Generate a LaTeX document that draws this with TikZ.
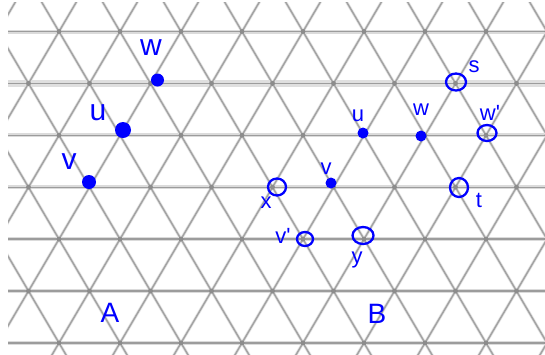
\documentclass[tikz,border=0pt]{standalone}
\usepackage{fontspec}
\setmainfont{Liberation Sans}
\usetikzlibrary{shapes.geometric}
\begin{document}
\begin{tikzpicture}[x=1pt,y=-1pt,
  hband/.style={line width=4pt, draw=gray!28},
  hcore/.style={line width=1.4pt, draw=gray!78},
  dband/.style={line width=3pt, draw=gray!20},
  dcore/.style={line width=1.5pt, draw=gray!72},
  knot/.style={fill=gray!90},
  bdot/.style={circle, fill=blue, inner sep=0pt, minimum size=#1},
  ring/.style={ellipse, draw=blue, line width=2.3pt, inner sep=0pt, minimum width=#1},
  lbl/.style={text=blue, inner sep=0pt},
  biglbl/.style={lbl, font=\fontsize{30}{30}\selectfont},
  smalllbl/.style={lbl, font=\fontsize{22}{22}\selectfont},
  caplbl/.style={lbl, font=\fontsize{28}{28}\selectfont}]
\useasboundingbox (0,0) rectangle (545,354);
\fill[white] (0,0) rectangle (545,354);
% triangular lattice
\begin{scope}
\clip (8,2) rectangle (545,354);
\foreach \k in {0,...,6} {
  \draw[hband] (0,{31.5+51.9*\k}) -- (545,{31.5+51.9*\k});
}
\draw[line width=7pt, draw=gray!25] (0,83.4) -- (545,83.4);
\foreach \j in {-6,...,9} {
  \draw[dband] ({59+61*\j-30.3},-20) -- ({59+61*\j+204.8},380);
  \draw[dcore] ({59+61*\j-30.3},-20) -- ({59+61*\j+204.8},380);
}
\foreach \j in {-1,...,14} {
  \draw[dband] ({59+61*\j+30.3},-20) -- ({59+61*\j-204.8},380);
  \draw[dcore] ({59+61*\j+30.3},-20) -- ({59+61*\j-204.8},380);
}
\foreach \k in {0,...,6} {
  \draw[hcore] (0,{31.5+51.9*\k}) -- (545,{31.5+51.9*\k});
}
\foreach \k in {0,...,6} {
  \foreach \j in {-1,...,9} {
    \fill[knot] ({59+61*\j-30.5*mod(\k,2)},{31.5+51.9*\k}) circle (2.5);
  }
}
\end{scope}
% group A
\node[bdot=13pt] (wA) at (157.5,80) {};
\node[bdot=16pt] (uA) at (123,130) {};
\node[bdot=14pt] (vA) at (89,182) {};
\node[biglbl] (wAl) at (151,48) {w};
\node[biglbl] (uAl) at (98,113) {u};
\node[biglbl] (vAl) at (69,162) {v};
\node[caplbl] (lA) at (110,313) {A};
% group B
\node[bdot=11pt] (uB) at (363,133) {};
\node[bdot=11pt] (wB) at (421,136) {};
\node[bdot=11pt] (vB) at (331,183) {};
\node[ring=20pt, minimum height=17pt] (sB) at (456,82) {};
\node[ring=19pt, minimum height=16pt] (wpB) at (487,133) {};
\node[ring=18pt, minimum height=17pt] (xB) at (277,187) {};
\node[ring=18pt, minimum height=19pt] (tB) at (459,187.5) {};
\node[ring=16pt, minimum height=14pt] (vpB) at (305,239) {};
\node[ring=21pt, minimum height=17pt] (yB) at (363,235.5) {};
\node[smalllbl] (uBl) at (358,116) {u};
\node[smalllbl] (wBl) at (421,110) {w};
\node[smalllbl] (wpBl) at (490,113) {w\textquotesingle};
\node[smalllbl] (sBl) at (474,67) {s};
\node[smalllbl] (vBl) at (326,169) {v};
\node[smalllbl] (xBl) at (266,203) {x};
\node[smalllbl] (tBl) at (479,200) {t};
\node[smalllbl] (vpBl) at (283,236) {v\textquotesingle};
\node[smalllbl] (yBl) at (357,260) {y};
\node[caplbl] (lB) at (377,314) {B};
\end{tikzpicture}
\end{document}
